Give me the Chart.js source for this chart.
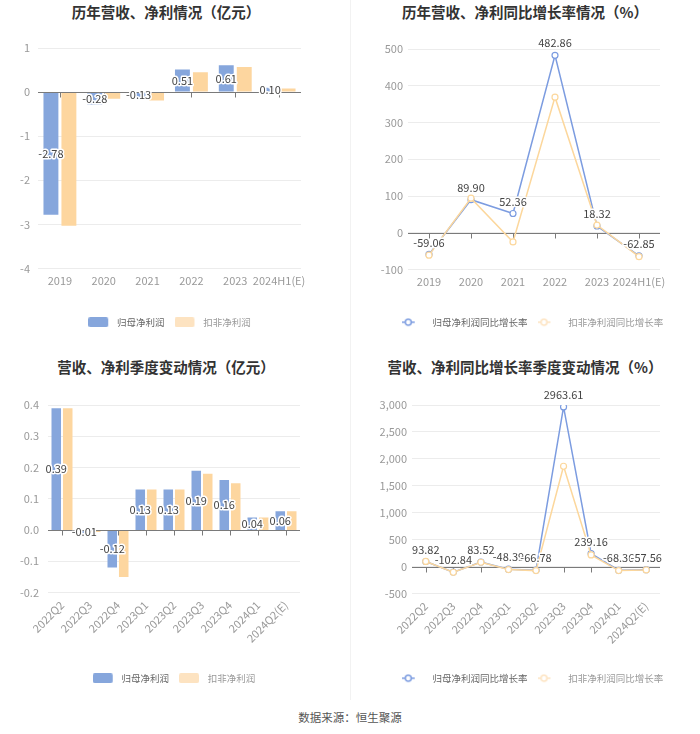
<!DOCTYPE html>
<html><head><meta charset="utf-8">
<script src="https://cdn.jsdelivr.net/npm/chart.js@4.4.1/dist/chart.umd.min.js"></script>
<style>
html,body{margin:0;padding:0;background:#fff;}
body{width:700px;height:734px;position:relative;overflow:hidden;font-family:"Noto Sans CJK SC","Microsoft YaHei",sans-serif;}
.title{position:absolute;text-align:center;font-weight:bold;font-size:14.5px;color:#333;line-height:20px;white-space:nowrap;}
.cv{position:absolute;}
.divider{position:absolute;left:350px;top:0;width:1px;height:700px;background:#f2f2f2;}
.source{position:absolute;left:0;width:700px;top:708px;text-align:center;font-size:11.5px;color:#555;line-height:18px;}
</style></head><body>
<div class="divider"></div>
<div class="title" style="left:0;width:332px;top:2px">历年营收、净利情况（亿元）</div>
<div class="title" style="left:350px;width:350px;top:2px">历年营收、净利同比增长率情况（%）</div>
<div class="title" style="left:0;width:332px;top:357px">营收、净利季度变动情况（亿元）</div>
<div class="title" style="left:350px;width:350px;top:357px">营收、净利同比增长率季度变动情况（%）</div>
<canvas id="c1" class="cv" width="350" height="315" style="left:0;top:30px"></canvas>
<canvas id="c2" class="cv" width="365" height="315" style="left:350px;top:30px"></canvas>
<canvas id="c3" class="cv" width="350" height="315" style="left:0;top:385px"></canvas>
<canvas id="c4" class="cv" width="365" height="315" style="left:350px;top:385px"></canvas>
<div class="source">数据来源：恒生聚源</div>
<script>
// ---------- data ----------
const yearCats = ['2019','2020','2021','2022','2023','2024H1(E)'];
const yearParent = [-2.78,-0.28,-0.13,0.51,0.61,0.10];
const yearDeducted = [-3.03,-0.15,-0.19,0.45,0.57,0.08];
const yearParentGrowth = [-59.06,89.90,52.36,482.86,18.32,-62.85];
const yearDeductedGrowth = [-61,94,-25,369,21,-65];

const quarterCats = ['2022Q2','2022Q3','2022Q4','2023Q1','2023Q2','2023Q3','2023Q4','2024Q1','2024Q2(E)'];
const quarterParent = [0.39,-0.01,-0.12,0.13,0.13,0.19,0.16,0.04,0.06];
const quarterDeducted = [0.39,-0.006,-0.15,0.13,0.13,0.18,0.15,0.04,0.06];
const quarterParentGrowth = [93.82,-102.84,83.52,-48.39,-66.78,2963.61,239.16,-68.36,-57.56];
const quarterDeductedGrowth = [95,-105,80,-56,-75,1863,217,-75,-62];

const seriesNames = ['归母净利润','扣非净利润'];
const growthNames = ['归母净利润同比增长率','扣非净利润同比增长率'];

// ---------- styles ----------
const BLUE_BAR = '#86a6dc', ORANGE_BAR = '#fdd69f';
const BLUE_LINE = '#7c9ce0', ORANGE_LINE = '#fcd79c';
const FONT = '"Noto Sans CJK SC","Microsoft YaHei",sans-serif';
Chart.defaults.font.family = FONT;
Chart.defaults.animation = false;

function barIcon(color){
  const c = document.createElement('canvas'); c.width = 24; c.height = 10;
  const g = c.getContext('2d'); g.fillStyle = color;
  g.beginPath(); g.roundRect(0,0,20,10,2); g.fill(); return c;
}
function lineIcon(color){
  const c = document.createElement('canvas'); c.width = 26; c.height = 10;
  const g = c.getContext('2d'); g.strokeStyle = color; g.lineWidth = 1.5;
  g.beginPath(); g.moveTo(0,5); g.lineTo(13,5); g.stroke();
  g.beginPath(); g.arc(6.5,5,3,0,Math.PI*2); g.fillStyle='#fff'; g.fill(); g.stroke(); return c;
}

const overlay = {
  id:'overlay',
  beforeDatasetsDraw(chart, args, opts){ if(opts.mode==='line') drawAxis(chart); },
  afterDatasetsDraw(chart, args, opts){
    if(opts.mode==='bar') drawAxis(chart);
    const {ctx} = chart;
    const meta = chart.getDatasetMeta(0);
    const data = chart.data.datasets[0].data;
    ctx.save();
    ctx.font = '11px ' + FONT;
    ctx.textAlign = 'center'; ctx.textBaseline = 'middle';
    ctx.lineJoin = 'round';
    meta.data.forEach((el,i)=>{
      const x = el.x;
      const y = opts.mode==='bar' ? (el.y + el.base)/2 : el.y - 12;
      const t = data[i].toFixed(2);
      ctx.strokeStyle = '#fff'; ctx.lineWidth = 3; ctx.strokeText(t,x,y);
      ctx.fillStyle = '#444'; ctx.fillText(t,x,y);
    });
    ctx.restore();
  }
};
function drawAxis(chart){
  const {ctx, chartArea:a, scales:{x,y}} = chart;
  const y0 = Math.round(y.getPixelForValue(0)) + 0.5;
  ctx.save(); ctx.strokeStyle = '#7a7a7a'; ctx.lineWidth = 1;
  ctx.beginPath(); ctx.moveTo(a.left,y0); ctx.lineTo(a.right,y0);
  for(let i=0;i<chart.data.labels.length;i++){
    const px = Math.round(x.getPixelForValue(i)) + 0.5;
    ctx.moveTo(px,y0); ctx.lineTo(px,y0+5);
  }
  ctx.stroke(); ctx.restore();
}

function makeChart(id, cfg){
  const isBar = cfg.type === 'bar';
  const names = isBar ? seriesNames : growthNames;
  const icons = isBar ? [barIcon(BLUE_BAR), barIcon('#fde3c1')] : [lineIcon(BLUE_LINE), lineIcon('#fde3c1')];
  const textColors = ['#666','#999'];
  const datasets = isBar ? [
    {label:names[0], data:cfg.a, backgroundColor:BLUE_BAR, categoryPercentage:0.82, barPercentage:0.83},
    {label:names[1], data:cfg.b, backgroundColor:ORANGE_BAR, categoryPercentage:0.82, barPercentage:0.83}
  ] : [
    {label:names[0], data:cfg.a, borderColor:BLUE_LINE, backgroundColor:'#fff', borderWidth:1.5, pointRadius:3, pointBorderWidth:1.2, pointBackgroundColor:'#fff', pointBorderColor:BLUE_LINE, tension:0, order:1},
    {label:names[1], data:cfg.b, borderColor:ORANGE_LINE, backgroundColor:'#fff', borderWidth:1.5, pointRadius:3, pointBorderWidth:1.2, pointBackgroundColor:'#fff', pointBorderColor:ORANGE_LINE, tension:0, order:0}
  ];
  const scales = {
    x:{
      offset:true,
      grid:{display:false, drawTicks:false}, border:{display:false},
      ticks:{color:'#999', font:{size:11}, padding:cfg.xPad, autoSkip:false,
             maxRotation:cfg.rot, minRotation:cfg.rot},
      afterFit(s){ s.height = cfg.xHeight; s.paddingLeft = 0; s.paddingRight = 0; }
    },
    y:{
      min:cfg.min, max:cfg.max,
      grid:{color:'#ececec', drawTicks:false}, border:{display:false},
      ticks:{stepSize:cfg.step, color:'#999', font:{size:11}, padding:cfg.yPad},
      afterFit(s){ s.width = cfg.yWidth; s.paddingTop = 0; s.paddingBottom = 0; }
    }
  };
  if (cfg.rightGap) {
    scales.yRight = {
      position:'right', display:true, min:cfg.min, max:cfg.max,
      grid:{display:false, drawTicks:false}, border:{display:false},
      ticks:{display:false},
      afterFit(s){ s.width = cfg.rightGap; s.paddingTop = 0; s.paddingBottom = 0; }
    };
  }
  return new Chart(document.getElementById(id), {
    type: cfg.type,
    data: {labels: cfg.labels, datasets},
    plugins: [overlay],
    options: {
      responsive:false, devicePixelRatio:1, animation:false,
      layout:{padding:{top:cfg.padTop, bottom:cfg.padBottom, left:0, right:cfg.padRight}},
      plugins:{
        tooltip:{enabled:false},
        overlay:{mode: isBar ? 'bar' : 'line'},
        legend:{
          position:'bottom', fullSize:!isBar,
          labels:{
            usePointStyle:true, pointStyleWidth: isBar ? 24 : 26, boxHeight:10,
            padding:10, font:{size:9.5},
            generateLabels(){
              return names.map((n,i)=>({text:n, fillStyle:'#fff', strokeStyle:'#fff', lineWidth:0,
                pointStyle:icons[i], hidden:false, datasetIndex:i, fontColor:textColors[i]}));
            }
          }
        }
      },
      scales
    }
  });
}

makeChart('c1', {type:'bar', labels:yearCats, a:yearParent, b:yearDeducted,
  min:-4, max:1, step:1, yWidth:38, yPad:8, padTop:18, padBottom:8, padRight:49, xHeight:39, xPad:6, rot:0});
makeChart('c2', {type:'line', labels:yearCats, a:yearParentGrowth, b:yearDeductedGrowth,
  min:-100, max:500, step:100, yWidth:58, yPad:5, padTop:19, padBottom:8, padRight:0, rightGap:55, xHeight:38, xPad:6, rot:0});
makeChart('c3', {type:'bar', labels:quarterCats, a:quarterParent, b:quarterDeducted,
  min:-0.2, max:0.4, step:0.1, yWidth:48, yPad:9, padTop:20, padBottom:7, padRight:50, xHeight:71, xPad:6, rot:45});
makeChart('c4', {type:'line', labels:quarterCats, a:quarterParentGrowth, b:quarterDeductedGrowth,
  min:-500, max:3000, step:500, yWidth:62, yPad:5, padTop:20, padBottom:7, padRight:0, rightGap:55, xHeight:70, xPad:6, rot:45});
</script>
</body></html>
